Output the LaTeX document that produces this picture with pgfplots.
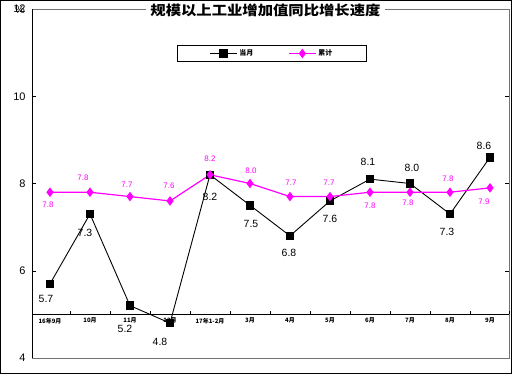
\documentclass[border=0pt]{standalone}
\usepackage{pgfplots}
\pgfplotsset{compat=1.18}
\usepackage{pgfplotstable}
\usepackage{fontspec}
\setmainfont{Liberation Sans}
\newfontfamily\cjk{Noto Sans CJK SC}
\definecolor{mag}{RGB}{255,0,255}

\pgfplotstableread{
x y dx dy
0 5.7 -4 -15
1 7.3 -5 -19
2 5.2 -5 -23
3 4.8 -10 -19
4 8.2 0 -22
5 7.5 1 -19
6 6.8 -1 -17
7 7.6 0 -18
8 8.1 -2 17
9 8.0 2 16
10 7.3 -3 -18
11 8.6 -6 11
}\monthly

\pgfplotstableread{
x y dx dy
0 7.8 -2 -13
1 7.8 -7 14
2 7.7 -3 12
3 7.6 -1 15
4 8.2 0 16
5 8.0 1 13
6 7.7 1 14
7 7.7 -1 14
8 7.8 0 -14
9 7.8 -2 -11
10 7.8 -2 13
11 7.9 -6 -14
}\cumul

\begin{document}
\begin{tikzpicture}
\draw[black, line width=1bp] (0.5bp,0.5bp) rectangle (511.5bp,373.5bp);
\begin{axis}[
  at={(32bp,16bp)}, anchor=south west,
  scale only axis, width=477bp, height=349bp,
  xmin=-0.45, xmax=11.475, ymin=4, ymax=12,
  ytick={4,6,8,10,12},
  /pgf/number format/assume math mode=true,
  yticklabel style={font=\fontsize{11}{11}\selectfont, xshift=-3bp},
  xtick={0,...,11},
  xticklabels={16年9月,10月,11月,12月,17年1-2月,3月,4月,5月,6月,7月,8月,9月},
  xticklabel style={font=\cjk\bfseries\fontsize{6}{6}\selectfont, yshift=43.6bp},
  x tick style={draw=none},
  y tick style={black},
  major tick length=4bp,
  axis line style={draw=black!55},
  clip=false,
  legend style={at={(rel axis cs:0.503,0.8725)}, anchor=center, draw=black,
    line width=0.8bp,
    legend columns=2, font=\cjk\bfseries\fontsize{7}{7}\selectfont,
    inner xsep=32bp, inner ysep=2.5bp,
    /tikz/every even column/.append style={column sep=33bp}},
  legend image code/.code={%
    \draw[#1] (0cm,0cm) -- (27bp,0cm);
    \draw[#1, mark repeat=1] plot coordinates {(13.5bp,0cm)};},
]
\draw[black, line width=0.9bp] (rel axis cs:0,0) -- (rel axis cs:0,1);
\draw[black, line width=0.8bp] (axis cs:-0.45,5) -- (axis cs:11.475,5);
\pgfplotsinvokeforeach{0.5,1.5,2.5,3.5,4.5,5.5,6.5,7.5,8.5,9.5,10.5,11.475}{
  \draw[black, line width=0.6bp] (axis cs:#1,5) -- ([yshift=3.5bp]axis cs:#1,5);
}

\addplot[black, line width=0.9bp, mark=square*, mark size=3.8bp,
  mark options={fill=black, solid},
  nodes near coords, point meta=explicit symbolic,
  visualization depends on={\thisrow{dx} \as \dx},
  visualization depends on={\thisrow{dy} \as \dy},
  nodes near coords style={anchor=center, xshift=\dx bp, yshift=\dy bp,
    font=\fontsize{10.5}{10.5}\selectfont, text=black}]
  table[x=x, y=y, meta=y] {\monthly};
\addlegendentry{当月}

\addplot[mag, line width=1.2bp, mark=diamond*, mark size=3.8bp,
  mark options={fill=mag, solid},
  nodes near coords, point meta=explicit symbolic,
  visualization depends on={\thisrow{dx} \as \dx},
  visualization depends on={\thisrow{dy} \as \dy},
  nodes near coords style={anchor=center, xshift=\dx bp, yshift=\dy bp,
    font=\fontsize{8}{8}\selectfont, text=mag}]
  table[x=x, y=y, meta=y] {\cumul};
\addlegendentry{累计}

\node[fill=white, inner xsep=4bp, inner ysep=1bp, xscale=1.14,
  font=\cjk\bfseries\fontsize{13.5}{13.5}\selectfont]
  at ([yshift=-1bp]rel axis cs:0.4895,1) {规模以上工业增加值同比增长速度};
\node[font=\fontsize{11}{11}\selectfont, xshift=-12bp, yshift=-1bp]
  at (rel axis cs:0,1) {\%};
\end{axis}
\end{tikzpicture}
\end{document}
